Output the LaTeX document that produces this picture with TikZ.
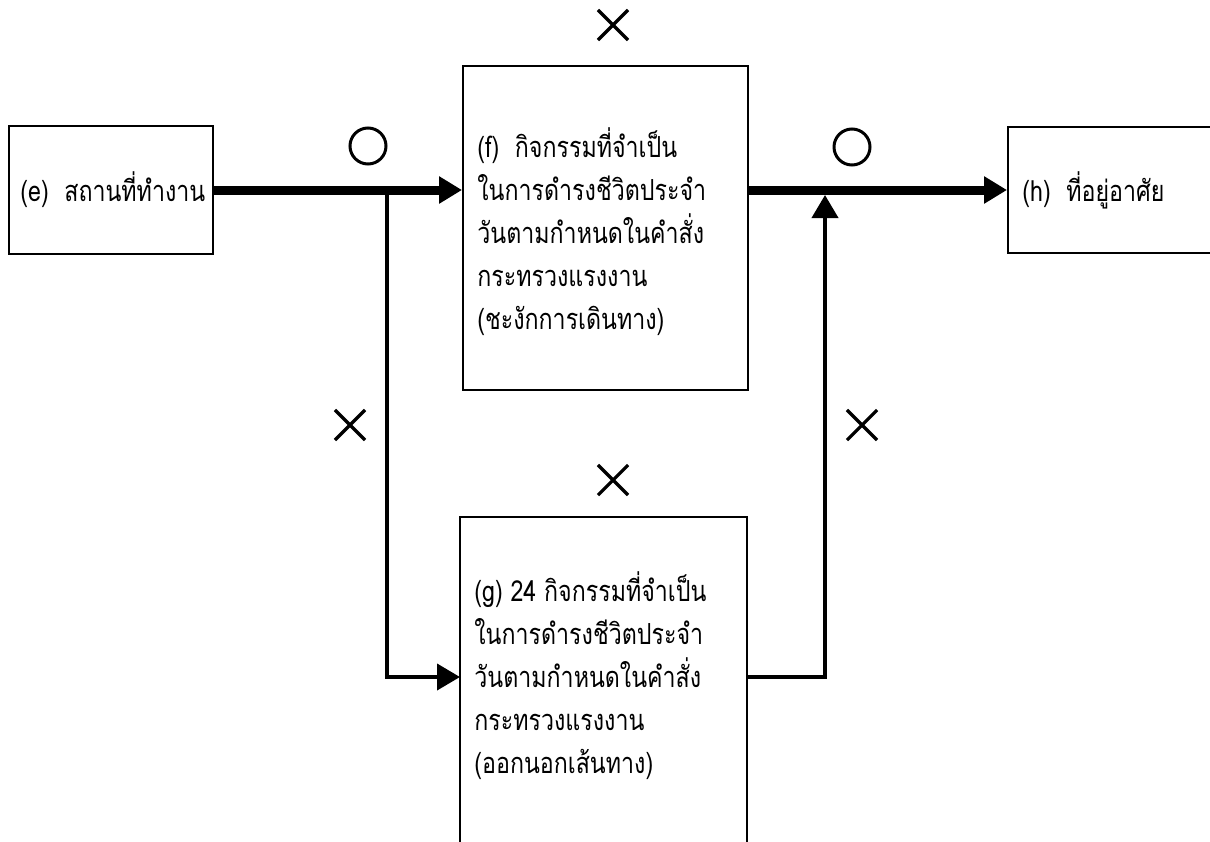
\documentclass[tikz,border=0pt]{standalone}
\usepackage{fontspec}
\setmainfont[Script=Thai,FakeStretch=0.8]{Loma}
\usetikzlibrary{arrows.meta,shapes.misc}
\tikzset{
  box/.style={draw,line width=1pt,rectangle,inner sep=0pt},
  boxtext/.style={anchor=west,align=left,inner sep=0pt,font=\fontsize{14.5}{21.5}\selectfont},
  heavy/.style={line width=4.5pt,-{Triangle[length=11.5pt,width=13pt]}},
  light/.style={line width=2pt,-{Triangle[length=11.5pt,width=13pt]}},
  okmark/.style={circle,draw,line width=1.5pt,minimum size=18pt,inner sep=0pt},
  ngmark/.style={cross out,draw,line width=1.6pt,minimum size=13.5pt,inner sep=0pt}
}
\begin{document}
\begin{tikzpicture}[x=0.5pt,y=-0.5pt]
\useasboundingbox (0,0) rectangle (1210,841);
\clip (0,0) rectangle (1210,841);
% boxes
\node[box,minimum width=102pt,minimum height=64pt] (e) at (111,190) {};
\node[box,minimum width=142.5pt,minimum height=162pt] (f) at (605.5,228) {};
\node[box,minimum width=143.5pt,minimum height=164pt] (g) at (603.5,681) {};
\node[box,minimum width=111pt,minimum height=63pt] (h) at (1119,190) {};
% texts
\node[boxtext] (te) at (20,190) {(e)\ \ สถานที่ทำงาน};
\node[boxtext] (tf) at (477,232) {(f)\ \ กิจกรรมที่จำเป็น\\ในการดำรงชีวิตประจำ\\วันตามกำหนดในคำสั่ง\\กระทรวงแรงงาน\\(ชะงักการเดินทาง)};
\node[boxtext] (tg) at (474,676) {(g) 24 กิจกรรมที่จำเป็น\\ในการดำรงชีวิตประจำ\\วันตามกำหนดในคำสั่ง\\กระทรวงแรงงาน\\(ออกนอกเส้นทาง)};
\node[boxtext] (th) at (1022,190) {(h)\ \ ที่อยู่อาศัย};
% junctions
\coordinate (b1) at (387,190);
\coordinate (b2) at (825,195);
\coordinate (gin) at (460,677);
\coordinate (gout) at (747,677);
% connectors
\draw[heavy] (e.east) -- (e.east -| f.west);
\draw[heavy] (f.east |- e.east) -- (h.west);
\draw[light] (b1) |- (gin);
\draw[light] (gout) -| (b2);
% marks
\node[okmark] (o1) at (368,146) {};
\node[okmark] (o2) at (852,147) {};
\node[ngmark] (x1) at (613,25) {};
\node[ngmark] (x2) at (350,425) {};
\node[ngmark] (x3) at (862,425) {};
\node[ngmark] (x4) at (613,480) {};
\end{tikzpicture}
\end{document}
